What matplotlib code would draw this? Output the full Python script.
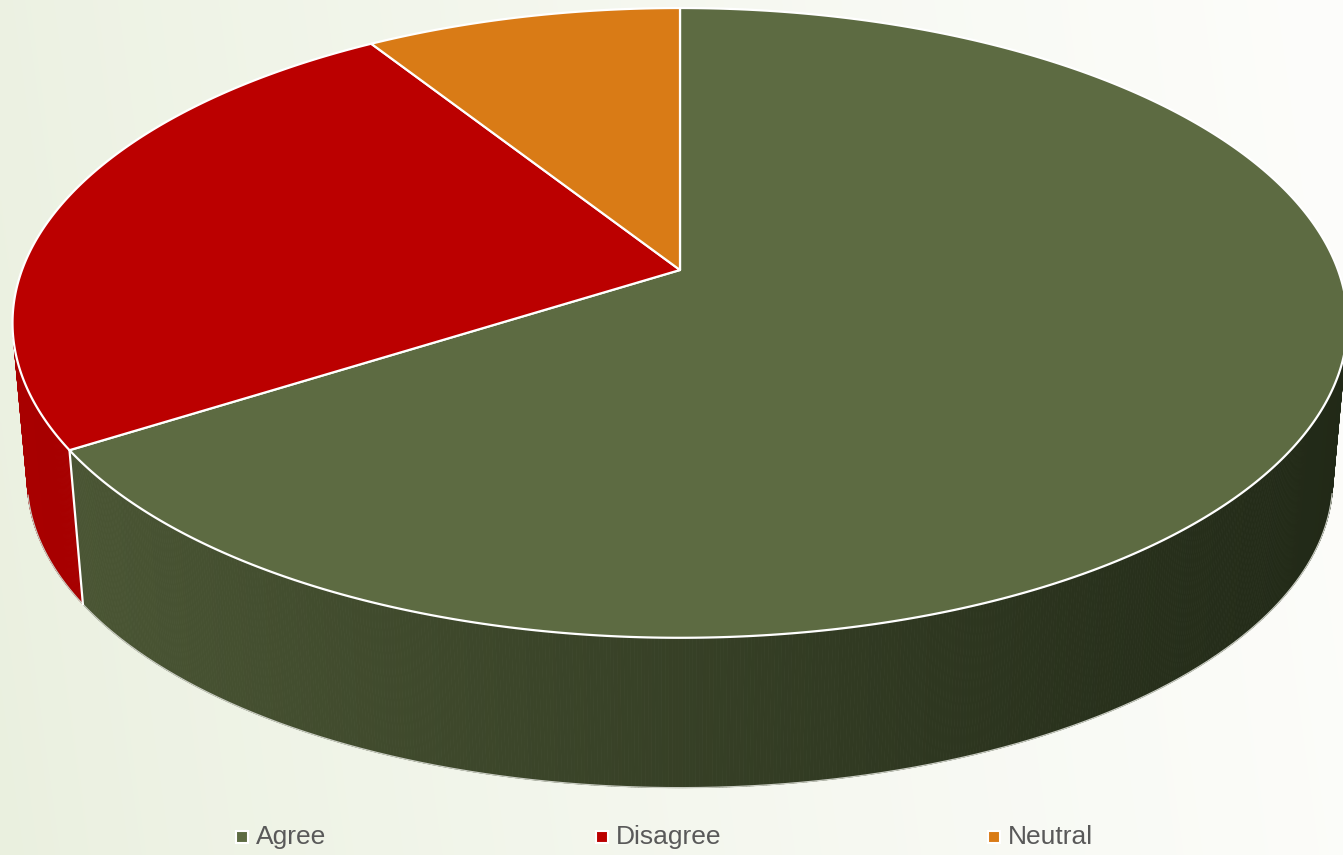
import numpy as np
import matplotlib
matplotlib.use("Agg")
import matplotlib.pyplot as plt
from matplotlib.patches import Polygon
from matplotlib.collections import PolyCollection

# ---- data ----
categories = ["Agree", "Disagree", "Neutral"]
shares = [66, 25, 9]

# ---- styling ----
top_colors = ["#5d6b42", "#bb0000", "#d97b16"]
side_left = [(0.30, 0.345, 0.21), (0.66, 0.0, 0.0), (0.75, 0.42, 0.06)]
side_right = [(0.13, 0.16, 0.09), (0.55, 0.0, 0.0), (0.60, 0.33, 0.05)]
legend_x = [242, 602, 994]
legend_y = 837

W, H = 1343, 855
fig = plt.figure(figsize=(W / 100, H / 100), dpi=100)
ax = fig.add_axes([0, 0, 1, 1])
ax.set_xlim(0, W)
ax.set_ylim(H, 0)
ax.axis("off")

# soft greenish background fading to white on the right
gx = np.linspace(0, 1, 500)
gy = np.linspace(0, 1, 300)
GX, GY = np.meshgrid(gx, gy)
t = np.clip(0.92 * GX + 0.08 * (1 - GY), 0, 1) ** 0.8
c0 = np.array([234, 240, 223]) / 255
c1 = np.array([253, 253, 251]) / 255
bg = c0 + (c1 - c0) * t[..., None]
ax.imshow(bg, extent=(0, W, H, 0), zorder=0, aspect="auto", interpolation="bilinear")

# ---- perspective projection of the pie disc ----
CX, CY = 680, 270          # projected centre of the top face
RX, RY, PERSP = 658, 306, 0.168
VY, SHRINK = 7450, 0.978   # vanishing point of the vertical edges / depth shrink


def top_point(theta):
    """theta in degrees, clockwise from 12 o'clock."""
    th = np.radians(theta)
    x = np.sin(th)
    z = -np.cos(th)
    w = 1.0 / (1.0 - PERSP * z)
    return np.array([CX + RX * x * w, CY + RY * z * w]).T


def bottom_point(theta):
    p = np.atleast_2d(top_point(theta))
    out = np.empty_like(p)
    out[:, 0] = CX + SHRINK * (p[:, 0] - CX)
    out[:, 1] = VY + SHRINK * (p[:, 1] - VY)
    return out


def faces_viewer(t1, t2):
    T = top_point(np.array([t1, t2]))
    B = bottom_point(np.array([t1, t2]))
    q = np.array([T[0], T[1], B[1], B[0]])
    xq, yq = q[:, 0], q[:, 1]
    area = 0.5 * np.sum(xq * np.roll(yq, -1) - np.roll(xq, -1) * yq)
    return area < 0, q


total = float(sum(shares))
bounds = np.concatenate([[0.0], np.cumsum(shares) / total * 360.0])

# ---- side wall ----
step = 0.25
for i in range(len(categories)):
    a, b = bounds[i], bounds[i + 1]
    n = max(int((b - a) / step), 2)
    th = np.linspace(a, b, n + 1)
    quads, cols = [], []
    for j in range(n):
        vis, q = faces_viewer(th[j], th[j + 1])
        if not vis:
            continue
        s = np.clip(q[:, 0].mean() / W, 0, 1)
        c = tuple(side_left[i][k] + (side_right[i][k] - side_left[i][k]) * s for k in range(3))
        quads.append(q)
        cols.append(c)
    if quads:
        ax.add_collection(PolyCollection(quads, facecolors=cols, edgecolors=cols,
                                         linewidths=0.6, zorder=2))

# thin outline along the visible lower rim
th_all = np.arange(0, 360, step)
vis_th = [tt for tt in th_all if faces_viewer(tt, tt + step)[0]]
Bp = bottom_point(np.array(vis_th))
ax.plot(Bp[:, 0], Bp[:, 1], color="#c9ccc2", lw=0.9, zorder=3)

# white divider on the wall between visible slices
for ang in bounds[1:-1]:
    if faces_viewer(ang - step, ang)[0] or faces_viewer(ang, ang + step)[0]:
        tp = top_point(ang)
        bp = bottom_point(ang)[0]
        ax.plot([tp[0], bp[0]], [tp[1], bp[1]], color="white", lw=1.6, zorder=4)

# ---- top face ----
for i in range(len(categories)):
    a, b = bounds[i], bounds[i + 1]
    th = np.linspace(a, b, max(int((b - a) * 2), 4))
    arc = top_point(th)
    pts = np.vstack([[CX, CY], arc])
    ax.add_patch(Polygon(pts, closed=True, facecolor=top_colors[i],
                         edgecolor="white", lw=1.6, joinstyle="round", zorder=5))

# ---- legend ----
for i, name in enumerate(categories):
    ax.plot(legend_x[i], legend_y, marker="s", markersize=8, color=top_colors[i],
            markeredgecolor="white", markeredgewidth=1.5, zorder=6)
    ax.text(legend_x[i] + 14, legend_y, name, fontsize=19, color="#595959",
            family="Liberation Sans", va="center", ha="left", zorder=6)

fig.savefig("out.png", dpi=100)
